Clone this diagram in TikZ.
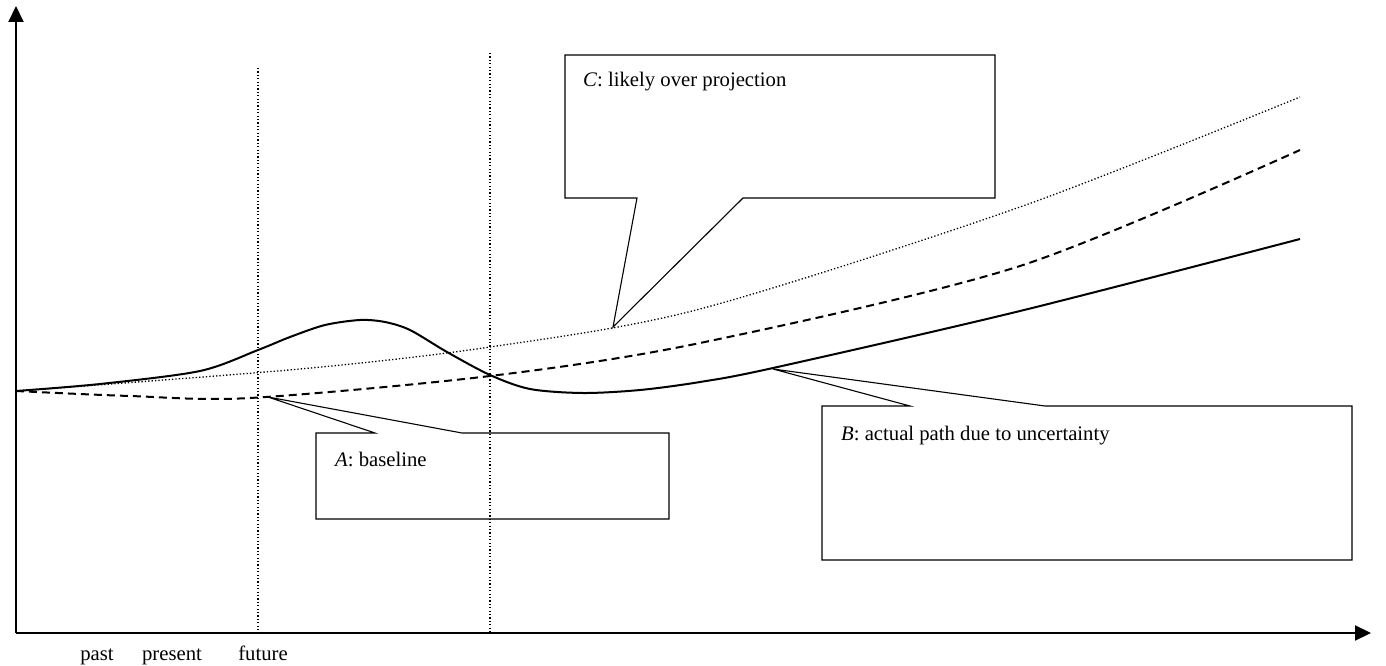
\documentclass[tikz,border=0pt]{standalone}
\usepackage{fontspec}
\setmainfont{Liberation Serif}
\usetikzlibrary{arrows.meta}
\begin{document}
\begin{tikzpicture}[x=1pt,y=-1pt,
 axis/.style={line width=2pt,-{Triangle[length=16pt,width=15pt]}},
 guide/.style={line width=1.2pt,dash pattern=on 1.2pt off 2.2pt},
 callout/.style={line width=1.1pt,line join=miter},
 boxtext/.style={anchor=base west,inner sep=0pt,font=\fontsize{20.7}{24}\selectfont},
 ticktext/.style={anchor=base,inner sep=0pt,font=\fontsize{20.7}{24}\selectfont}]
 \useasboundingbox (0,0) rectangle (1386,666);
 \coordinate (o) at (16,633);
 \coordinate (ytop) at (16,6);
 \coordinate (xend) at (1371,633);
 \draw[axis] (o) -- (ytop);
 \draw[axis] (o) -- (xend);
 \draw[guide] (258,68) -- (258,633);
 \draw[guide] (490,53) -- (490,633);
 \node[ticktext] (past) at (97,660) {past};
 \node[ticktext] (present) at (172,660) {present};
 \node[ticktext] (future) at (263,660) {future};
 \draw[line width=2pt] plot[smooth] coordinates {(16,391) (100,384) (200,371) (258,350) (290,337) (325,325) (360,320) (385,322) (410,330) (447,352) (490,375) (530,389) (583,393) (640,390) (700,382) (773,368) (1020,311) (1300,239)};
 \draw[line width=1.3pt,dash pattern=on 1.3pt off 2.1pt] plot[smooth] coordinates {(16,391) (300,369) (490,347) (700,309) (1020,207) (1300,97)};
 \draw[line width=2pt,dash pattern=on 8pt off 5pt] plot[smooth] coordinates {(16,391) (130,396) (250,398) (490,376) (700,343) (1020,266) (1300,150)};
 \coordinate (tipA) at (268,397);
 \draw[callout] (316,433) -- (375,433) -- (tipA) -- (462,433) -- (669,433) -- (669,519) -- (316,519) -- cycle;
 \node[boxtext] (textA) at (335,466) {\textit{A}: baseline};
 \coordinate (tipC) at (613,327);
 \draw[callout] (565,198) -- (637,198) -- (tipC) -- (743,198) -- (995,198) -- (995,55) -- (565,55) -- cycle;
 \node[boxtext] (textC) at (583,87) {\textit{C}: likely over projection};
 \coordinate (tipB) at (773,369);
 \draw[callout] (822,406) -- (910,406) -- (tipB) -- (1045,406) -- (1352,406) -- (1352,560) -- (822,560) -- cycle;
 \node[boxtext] (textB) at (841,440) {\textit{B}: actual path due to uncertainty};
\end{tikzpicture}
\end{document}
